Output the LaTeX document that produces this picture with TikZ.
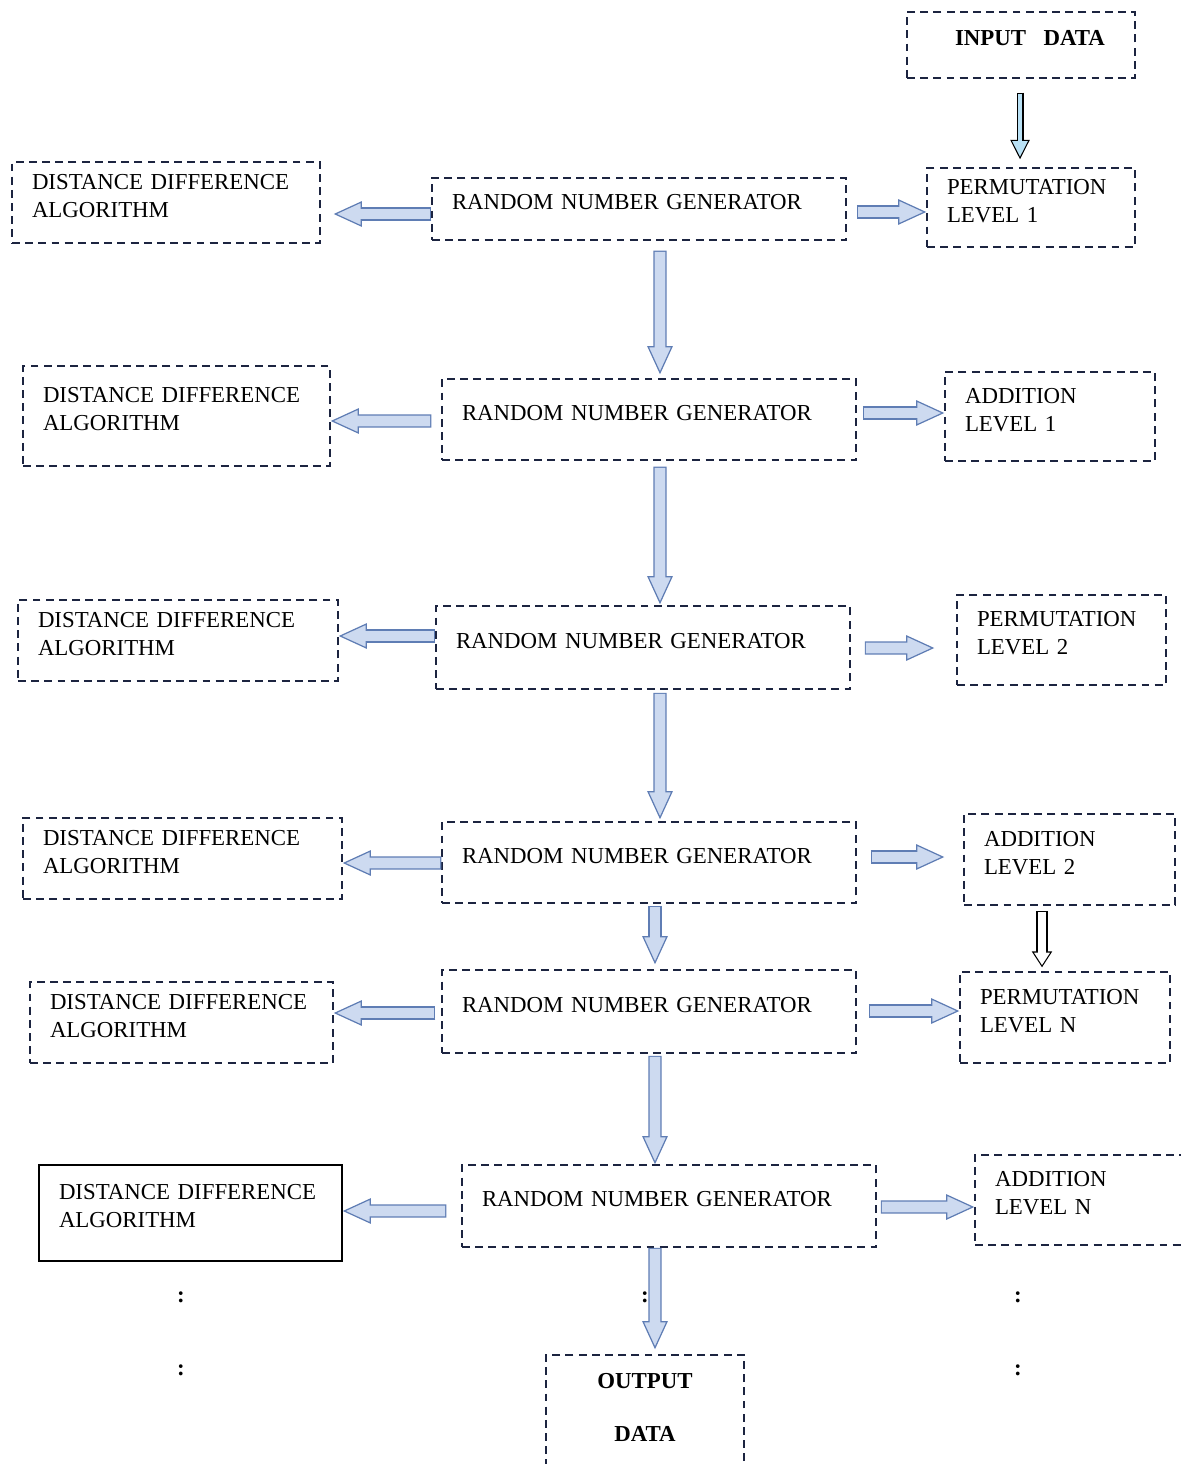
\documentclass[tikz,border=0pt]{standalone}
\usepackage{fontspec}
\setmainfont{Liberation Serif}
\usepackage{tikz}
\usetikzlibrary{arrows.meta}
\definecolor{boxline}{RGB}{28,36,64}
\definecolor{arrowedge}{RGB}{95,125,180}
\definecolor{arrowfill}{RGB}{205,218,240}
\definecolor{inblue}{RGB}{185,225,245}
\hyphenpenalty=10000
\tikzset{every node/.style={font=\fontsize{13}{16}\selectfont,text=black}}
\tikzset{box/.style 2 args={rectangle,minimum width=#1cm,text width=#1cm-0.8cm,minimum height=#2cm,inner xsep=0.4cm,align=left,execute at end node={\rule[-0.28cm]{0pt}{0.28cm}}}}
\tikzset{dbox/.style={draw=boxline,line width=0.85pt,dash pattern=on 4.5pt off 3pt}}
\tikzset{sbox/.style={draw=black,line width=0.9pt}}
\tikzset{dots/.style={inner sep=0pt,font=\fontsize{13}{16}\selectfont\bfseries}}
\tikzset{blk/.style={draw=arrowedge,line width=7.5pt,-{Triangle[length=16pt,width=14.5pt,line width=0.7pt,fill=arrowfill]},postaction={draw=arrowfill,line width=6.1pt,-,shorten <=0.7pt,shorten >=15pt}}}
\tikzset{inarr/.style={draw=black,line width=4pt,-{Triangle[length=11pt,width=11pt,line width=0.6pt,fill=inblue]},postaction={draw=inblue,line width=2.8pt,-,shorten <=0.6pt,shorten >=10pt}}}
\tikzset{hollow/.style={draw=black,line width=6.3pt,-{Triangle[length=9pt,width=11.5pt,line width=0.6pt,fill=white]},postaction={draw=white,line width=5.1pt,-,shorten <=0.6pt,shorten >=8pt}}}

\begin{document}
\begin{tikzpicture}
\useasboundingbox (0,0) rectangle (23.6,-29.28);

\node[dbox,box={4.56}{1.32}](input) at (20.42,-0.90) {\hspace*{0.56cm}\textbf{INPUT\hspace{0.35cm}DATA}};

\node[dbox,box={6.16}{1.62}](dda1) at (3.32,-4.05) {DISTANCE~DIFFERENCE\\ALGORITHM};
\node[dbox,box={8.28}{1.24}](rng1) at (12.78,-4.18) {RANDOM~NUMBER~GENERATOR};
\node[dbox,box={4.16}{1.58}](perm1) at (20.62,-4.15) {PERMUTATION\\LEVEL 1};

\node[dbox,box={6.14}{2.0}](dda2) at (3.53,-8.32) {DISTANCE~DIFFERENCE\\ALGORITHM};
\node[dbox,box={8.28}{1.62}](rng2) at (12.98,-8.39) {RANDOM~NUMBER~GENERATOR};
\node[dbox,box={4.2}{1.78}](add1) at (21.0,-8.33) {ADDITION\\LEVEL 1};

\node[dbox,box={6.4}{1.62}](dda3) at (3.56,-12.81) {DISTANCE~DIFFERENCE\\ALGORITHM};
\node[dbox,box={8.28}{1.66}](rng3) at (12.86,-12.95) {RANDOM~NUMBER~GENERATOR};
\node[dbox,box={4.18}{1.8}](perm2) at (21.23,-12.8) {PERMUTATION\\LEVEL 2};

\node[dbox,box={6.38}{1.62}](dda4) at (3.65,-17.17) {DISTANCE~DIFFERENCE\\ALGORITHM};
\node[dbox,box={8.28}{1.62}](rng4) at (12.98,-17.25) {RANDOM~NUMBER~GENERATOR};
\node[dbox,box={4.22}{1.82}](add2) at (21.39,-17.19) {ADDITION\\LEVEL 2};

\node[dbox,box={6.06}{1.62}](dda5) at (3.63,-20.45) {DISTANCE~DIFFERENCE\\ALGORITHM};
\node[dbox,box={8.28}{1.66}](rng5) at (12.98,-20.23) {RANDOM~NUMBER~GENERATOR};
\node[dbox,box={4.2}{1.82}](permn) at (21.3,-20.35) {PERMUTATION\\LEVEL N};

\node[sbox,box={6.06}{1.92}](dda6) at (3.81,-24.26) {DISTANCE~DIFFERENCE\\ALGORITHM};
\node[dbox,box={8.28}{1.64}](rng6) at (13.38,-24.12) {RANDOM~NUMBER~GENERATOR};
\node[dbox,box={5.7}{1.8}](addn) at (22.35,-24.0) {ADDITION\\LEVEL N};

\node[dbox,box={3.96}{2.38},align=center](output) at (12.9,-28.29) {\textbf{OUTPUT}\\[0.5cm]\textbf{DATA}};

\draw[inarr] ([xshift=-0.02cm,yshift=-0.28cm]input.south) -- ([xshift=-0.22cm,yshift=0.16cm]perm1.north);

\draw[blk] ([yshift=-0.1cm]rng1.west) -- ([xshift=0.26cm,yshift=-0.23cm]dda1.east);
\draw[blk] ([xshift=0.2cm,yshift=-0.06cm]rng1.east) -- ([yshift=-0.09cm]perm1.west);
\draw[blk] ([xshift=0.42cm,yshift=-0.2cm]rng1.south) -- ([xshift=0.22cm,yshift=0.08cm]rng2.north);

\draw[blk] ([xshift=-0.2cm,yshift=-0.03cm]rng2.west) -- ([yshift=-0.1cm]dda2.east);
\draw[blk] ([xshift=0.12cm,yshift=0.13cm]rng2.east) -- ([yshift=0.07cm]add1.west);
\draw[blk] ([xshift=0.22cm,yshift=-0.12cm]rng2.south) -- ([xshift=0.34cm,yshift=0.02cm]rng3.north);

\draw[blk] ([yshift=0.23cm]rng3.west) -- ([yshift=0.09cm]dda3.east);
\draw[blk] ([xshift=0.28cm,yshift=-0.01cm]rng3.east) -- ([xshift=-0.44cm,yshift=-0.16cm]perm2.west);
\draw[blk] ([xshift=0.34cm,yshift=-0.06cm]rng3.south) -- ([xshift=0.22cm,yshift=0.04cm]rng4.north);

\draw[blk] ([yshift=-0.01cm]rng4.west) -- ([yshift=-0.09cm]dda4.east);
\draw[blk] ([xshift=0.28cm,yshift=0.11cm]rng4.east) -- ([xshift=-0.38cm,yshift=0.05cm]add2.west);
\draw[blk] ([xshift=0.12cm,yshift=-0.04cm]rng4.south) -- ([xshift=0.12cm,yshift=0.1cm]rng5.north);
\draw[hollow] ([xshift=-0.55cm,yshift=-0.1cm]add2.south) -- ([xshift=-0.46cm,yshift=0.08cm]permn.north);

\draw[blk] ([xshift=-0.12cm,yshift=-0.03cm]rng5.west) -- ([yshift=0.19cm]dda5.east);
\draw[blk] ([xshift=0.24cm,yshift=0.01cm]rng5.east) -- ([yshift=0.13cm]permn.west);
\draw[blk] ([xshift=0.12cm,yshift=-0.04cm]rng5.south) -- ([xshift=-0.28cm]rng6.north);

\draw[blk] ([xshift=-0.3cm,yshift=-0.1cm]rng6.west) -- ([yshift=0.04cm]dda6.east);
\draw[blk] ([xshift=0.08cm,yshift=-0.02cm]rng6.east) -- ([yshift=-0.14cm]addn.west);
\draw[blk] ([xshift=-0.28cm]rng6.south) -- ([xshift=0.2cm,yshift=0.1cm]output.north);

\node[dots](l1) at (3.62,-25.94) {:};
\node[dots](l2) at (3.62,-27.40) {:};
\node[dots](m1) at (12.90,-25.94) {:};
\node[dots](r1) at (20.36,-25.94) {:};
\node[dots](r2) at (20.36,-27.40) {:};
\end{tikzpicture}
\end{document}
